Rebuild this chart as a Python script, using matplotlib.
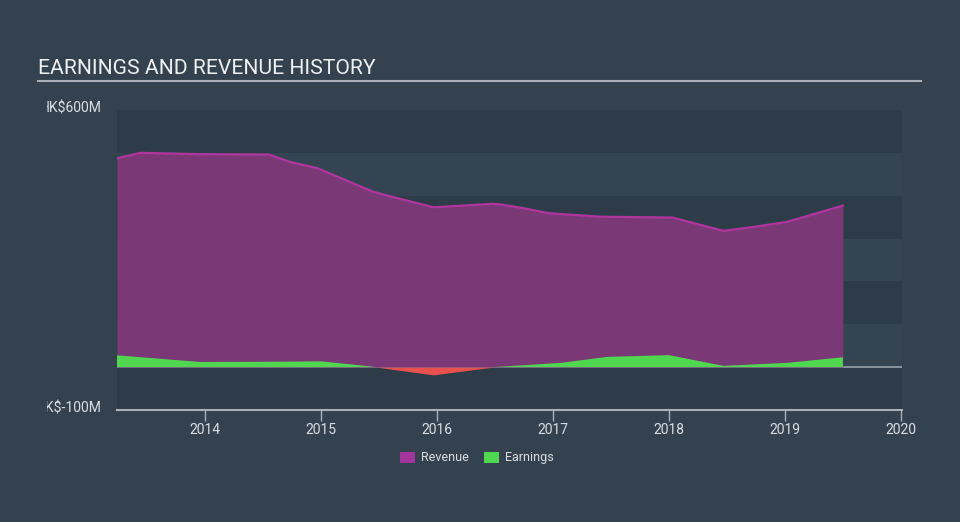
import matplotlib
matplotlib.use("Agg")
import matplotlib.pyplot as plt
from matplotlib.patches import Rectangle
import numpy as np

# ── Data ─────────────────────────────────────────────────────────────────────
rev_t = [2013.24, 2013.44, 2013.96, 2014.50, 2014.55, 2014.73, 2014.97, 2015.45,
         2015.59, 2015.97, 2016.48, 2016.54, 2016.72, 2016.97, 2017.41, 2018.03,
         2018.47, 2018.70, 2019.02, 2019.50]
rev_v = [487, 500, 497, 496, 496, 479, 464, 409,
         399, 373, 381, 380, 372, 359, 351, 349,
         318, 326, 339, 377]

earn_t = [2013.24, 2013.96, 2014.50, 2015.00, 2015.45, 2015.97, 2016.48, 2016.72,
          2017.07, 2017.47, 2018.00, 2018.47, 2019.02, 2019.50]
earn_v = [27.5, 12, 12.5, 13.5, 1, -18, 0, 4,
          10, 24, 28, 3, 10, 23]

year_ticks = [2014, 2015, 2016, 2017, 2018, 2019, 2020]
y_labels = {600: "HK$600M", -100: "HK$-100M"}

# ── Style ────────────────────────────────────────────────────────────────────
FIG_BG = "#344250"
DARK   = "#2e3b49"
LIGHT  = "#354453"
REV_FILL = "#7a3877"
REV_LINE = "#b0359e"
GREEN  = "#4fd84f"
RED    = "#e8514d"
TEXT   = "#d9dde2"
AXIS   = "#a9b0b8"
FONT   = ["Roboto", "DejaVu Sans"]

fig = plt.figure(figsize=(9.6, 5.22), dpi=100, facecolor=FIG_BG)
W, H = 960, 522
ax = fig.add_axes([117 / W, 1 - 410 / H, (902 - 117) / W, 300 / H])
ax.set_facecolor(DARK)
ax.set_xlim(2013.24, 2020.01)
ax.set_ylim(-100, 600)

# alternating bands
for lo in (0, 200, 400):
    ax.axhspan(lo, lo + 100, color=LIGHT, lw=0, zorder=0)

ax.axhline(0, color="#9aa1aa", lw=1.2, zorder=1)

t = np.array(rev_t)
r = np.array(rev_v)
ax.fill_between(t, 0, r, color=REV_FILL, lw=0, zorder=2)
ax.plot(t, r, color=REV_LINE, lw=1.6, zorder=3)

et = np.array(earn_t)
ev = np.array(earn_v, dtype=float)
ax.fill_between(et, 0, ev, where=ev >= 0, interpolate=True, color=GREEN, lw=0, zorder=4)
ax.fill_between(et, 0, ev, where=ev <= 0, interpolate=True, color=RED, lw=0, zorder=4)

for s in ("top", "right", "left"):
    ax.spines[s].set_visible(False)
ax.spines["bottom"].set_color(AXIS)
ax.spines["bottom"].set_linewidth(1.5)
ax.set_yticks([])
ax.set_xticks(year_ticks)
ax.set_xticklabels([str(y) for y in year_ticks], fontsize=10, color=TEXT,
                   family=FONT)
ax.tick_params(axis="x", colors=AXIS, length=8, width=1, pad=1, labelcolor=TEXT)

# y labels, clipped on the left like the reference
clip = Rectangle((47, 0), 200, H, transform=None)
for val, lab in y_labels.items():
    yp = ax.transData.transform((0, val))[1]
    txt = fig.text(102 / W, yp / H + 1 / H, lab, ha="right", va="center",
                   fontsize=10.1, color=TEXT, family=FONT)
    txt.set_clip_path(clip)

# title and underline
fig.text(38 / W, 1 - 68 / H, "EARNINGS AND REVENUE HISTORY", ha="left",
         va="center", fontsize=15.2, color="#eef0f2", family="Roboto")
fig.add_artist(plt.Line2D([38 / W, 921 / W], [1 - 81 / H, 1 - 81 / H],
                          color=AXIS, lw=1.5))

# legend
for x0, col, lab in ((400, "#a0369a", "Revenue"), (484, GREEN, "Earnings")):
    fig.add_artist(Rectangle((x0 / W, 1 - 463 / H), 15 / W, 11 / H,
                             color=col, lw=0))
    fig.text((x0 + 21) / W, 1 - 457.5 / H, lab, ha="left", va="center",
             fontsize=9, color=TEXT, family=FONT)

fig.savefig("out.png", dpi=100, facecolor=FIG_BG)
